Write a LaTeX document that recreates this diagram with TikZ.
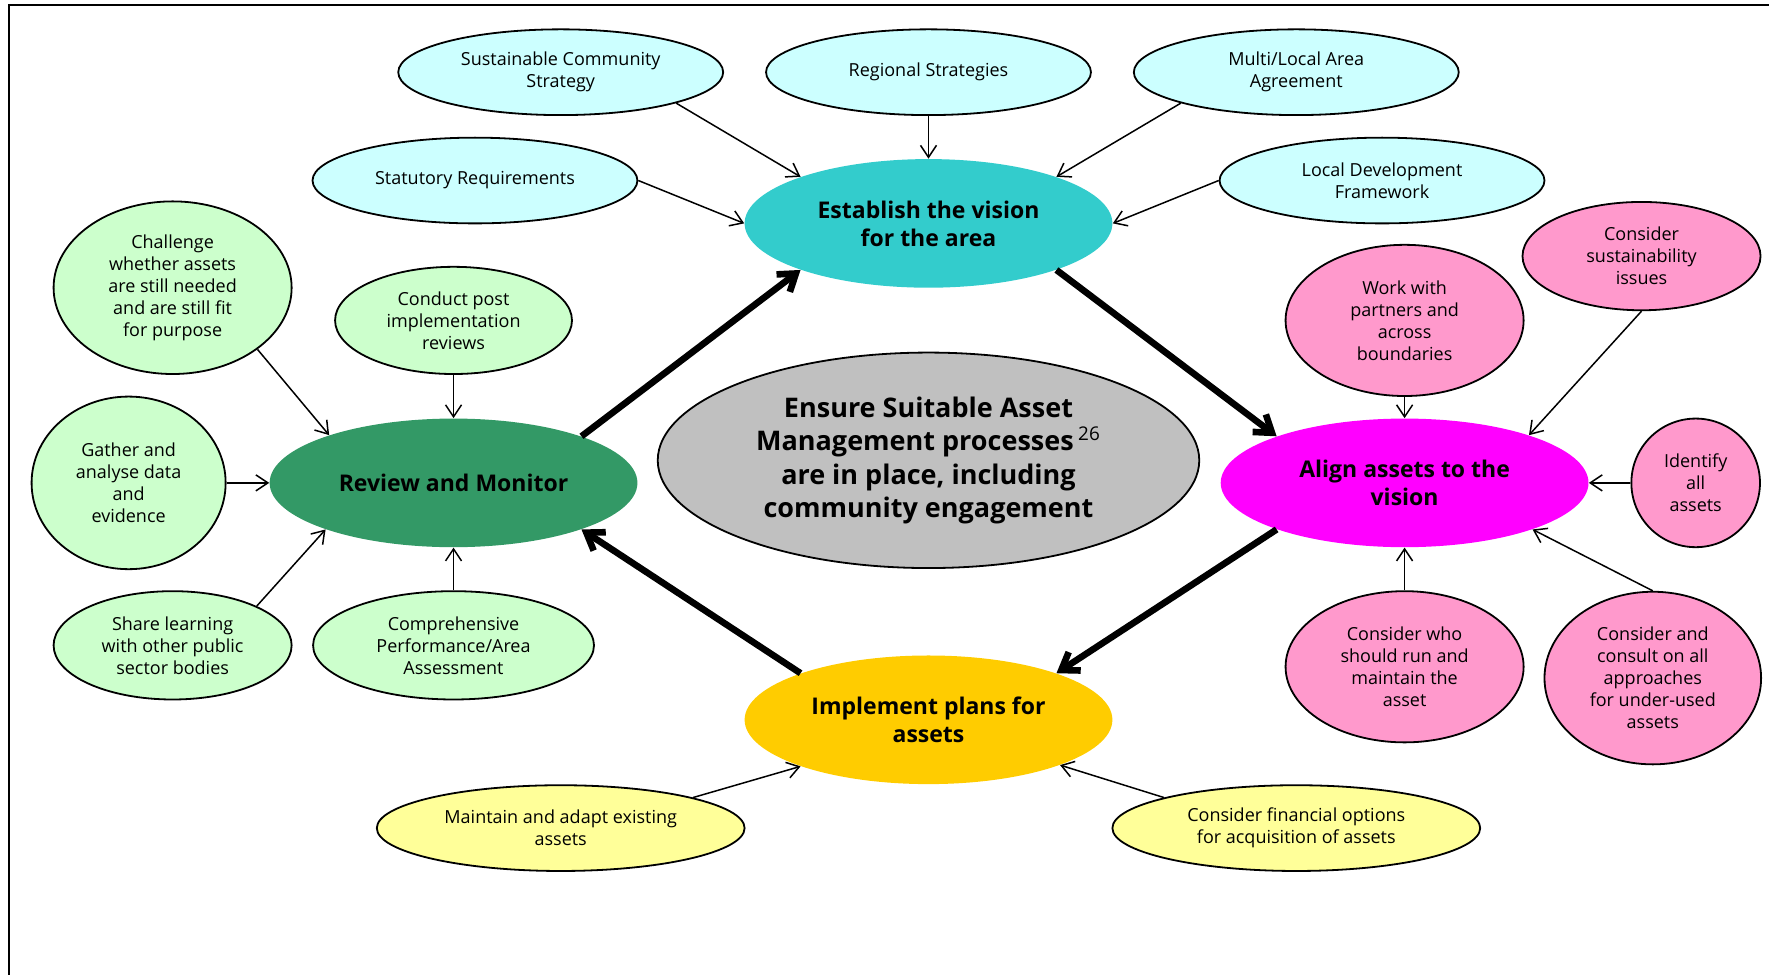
\documentclass[tikz,border=0pt]{standalone}
\usepackage{fontspec}
\setmainfont{Open Sans}
\usetikzlibrary{arrows.meta,shapes.geometric}
\definecolor{lcyan}{HTML}{CCFFFF}
\definecolor{ecyan}{HTML}{33CCCC}
\definecolor{egreen}{HTML}{339966}
\definecolor{emag}{HTML}{FF00FF}
\definecolor{egold}{HTML}{FFCC00}
\definecolor{egrey}{HTML}{C0C0C0}
\definecolor{lgreen}{HTML}{CCFFCC}
\definecolor{lpink}{HTML}{FF99CC}
\definecolor{lyellow}{HTML}{FFFF99}
\begin{document}
\begin{tikzpicture}[x=0.5641pt,y=-0.5641pt,
  sm/.style={ellipse, draw=black, line width=0.9pt, inner sep=0pt, align=center, font=\fontsize{9}{11}\selectfont},
  sz/.style 2 args={minimum width=#1*0.5641pt, minimum height=#2*0.5641pt},
  big/.style={ellipse, inner sep=0pt, align=center, font=\fontsize{11.5}{14}\selectfont\bfseries, sz={326}{114}},
  thinarr/.style={-{Straight Barb[length=6pt,width=8pt]}, line width=0.75pt},
  thickarr/.style={-{Straight Barb[length=8pt,width=11pt]}, line width=3.3pt},
]
\useasboundingbox (0,0) rectangle (1568,864.2);
\draw[line width=0.75pt] (8,864.2) -- (8,4.4) -- (1568,4.4);

% top inputs
\node[sm, fill=lcyan, sz={288}{76}] (scs) at (497,64) {Sustainable Community\\Strategy};
\node[sm, fill=lcyan, sz={288}{76}] (reg) at (823,64) {Regional Strategies};
\node[sm, fill=lcyan, sz={288}{76}] (mla) at (1149,64) {Multi/Local Area\\Agreement};
\node[sm, fill=lcyan, sz={288}{76}] (stat) at (421,160) {Statutory Requirements};
\node[sm, fill=lcyan, sz={288}{76}] (ldf) at (1225,160) {Local Development\\Framework};

% main cycle
\node[big, fill=ecyan] (est) at (823,198) {Establish the vision\\for the area};
\node[big, fill=egreen] (rev) at (402,428) {Review and Monitor};
\node[big, fill=emag] (ali) at (1245,428) {Align assets to the\\vision};
\node[big, fill=egold] (imp) at (823,638) {Implement plans for\\assets};
\node[ellipse, draw=black, line width=0.9pt, fill=egrey, sz={480}{191}, inner sep=0pt, align=center, font=\fontsize{13.5}{16.75}\selectfont\bfseries] (cen) at (823,408) {Ensure Suitable Asset\\Management processes\,\textsuperscript{\mdseries 26}\\are in place, including\\community engagement};

% green
\node[sm, fill=lgreen, sz={211}{153}] (chal) at (153,255) {Challenge\\whether assets\\are still needed\\and are still fit\\for purpose};
\node[sm, fill=lgreen, sz={210}{95}] (cond) at (402,284) {Conduct post\\implementation\\reviews};
\node[sm, fill=lgreen, sz={172}{153}] (gath) at (114,428) {Gather and\\analyse data\\and\\evidence};
\node[sm, fill=lgreen, sz={211}{96}] (shar) at (153,572) {Share learning\\with other public\\sector bodies};
\node[sm, fill=lgreen, sz={249}{96}] (comp) at (402,572) {Comprehensive\\Performance/Area\\Assessment};

% pink
\node[sm, fill=lpink, sz={211}{134}] (work) at (1245,284) {Work with\\partners and\\across\\boundaries};
\node[sm, fill=lpink, sz={211}{96}] (sust) at (1455,227) {Consider\\sustainability\\issues};
\node[sm, fill=lpink, sz={114}{114}] (iden) at (1503,428) {Identify\\all\\assets};
\node[sm, fill=lpink, sz={211}{134}] (who) at (1245,591) {Consider who\\should run and\\maintain the\\asset};
\node[sm, fill=lpink, sz={192}{153}] (cons) at (1465,601) {Consider and\\consult on all\\approaches\\for under-used\\assets};

% yellow
\node[sm, fill=lyellow, sz={326}{76}] (mnt) at (497,734) {Maintain and adapt existing\\assets};
\node[sm, fill=lyellow, sz={326}{76}] (fin) at (1149,734) {Consider financial options\\for acquisition of assets};

% thin arrows
\draw[thinarr] (scs.-15) -- (est.160);
\draw[thinarr] (reg.south) -- (est.north);
\draw[thinarr] (mla.-165) -- (est.20);
\draw[thinarr] (stat.east) -- (est.west);
\draw[thinarr] (ldf.west) -- (est.east);
\draw[thinarr] (chal.-36) -- (rev.159);
\draw[thinarr] (cond.south) -- (rev.north);
\draw[thinarr] (gath.east) -- (rev.west);
\draw[thinarr] (shar.25) -- (rev.200);
\draw[thinarr] (comp.north) -- (rev.south);
\draw[thinarr] (work.south) -- (ali.north);
\draw[thinarr] (sust.south) -- (ali.21);
\draw[thinarr] (iden.west) -- (ali.east);
\draw[thinarr] (who.north) -- (ali.south);
\draw[thinarr] (cons.north) -- (ali.-20);
\draw[thinarr] (mnt.13) -- (imp.200);
\draw[thinarr] (fin.167) -- (imp.-19);

% thick cycle arrows
\draw[thickarr] (rev.20) -- (est.200);
\draw[thickarr] (est.-20) -- (ali.160);
\draw[thickarr] (ali.200) -- (imp.20);
\draw[thickarr] (imp.160) -- (rev.-20);
\end{tikzpicture}
\end{document}
